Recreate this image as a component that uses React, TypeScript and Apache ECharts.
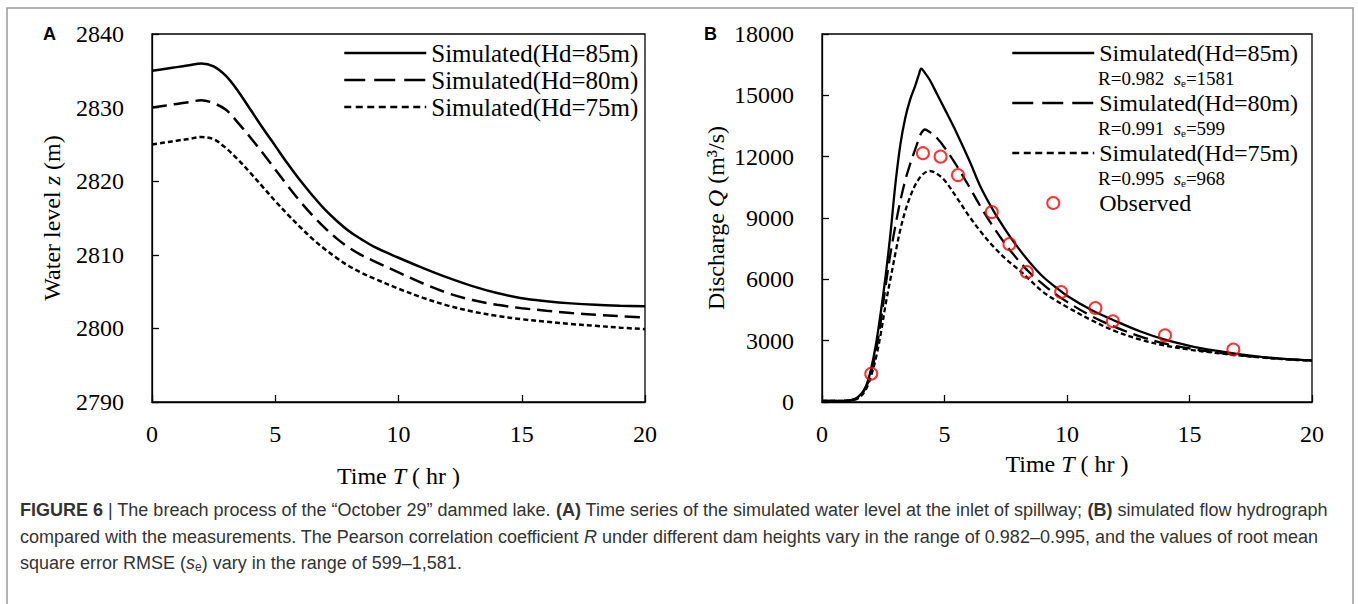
import React, { useEffect, useRef } from "react";
import * as echarts from "echarts";

const SERIF = "'Liberation Serif', 'Times New Roman', serif";
const SANS = "'Liberation Sans', Arial, sans-serif";

// ---------- data ----------
const simNames = ["Simulated(Hd=85m)", "Simulated(Hd=80m)", "Simulated(Hd=75m)"];
const observedName = "Observed";
const fitR = ["R=0.982", "R=0.991", "R=0.995"];
const fitSe = ["1581", "599", "968"];

// Panel A: water level (m)
const levelTime = [0, 0.5, 1, 1.5, 2, 2.5, 3, 3.5, 4, 4.5, 5, 5.5, 6, 6.5, 7, 7.5, 8, 8.5, 9, 10, 11, 12, 13, 14, 15, 16, 17, 18, 19, 20];
const level85 = [2835.0, 2835.25, 2835.5, 2835.75, 2836.0, 2835.6, 2834.3, 2832.2, 2829.7, 2827.2, 2824.8, 2822.4, 2820.15, 2818.1, 2816.2, 2814.6, 2813.2, 2812.1, 2811.1, 2809.6, 2808.2, 2806.9, 2805.75, 2804.8, 2804.1, 2803.7, 2803.4, 2803.2, 2803.08, 2803.0];
const level80 = [2830.0, 2830.25, 2830.5, 2830.75, 2831.0, 2830.6, 2829.7, 2827.9, 2825.9, 2823.8, 2821.6, 2819.4, 2817.3, 2815.4, 2813.7, 2812.2, 2810.95, 2809.95, 2809.15, 2807.6, 2806.1, 2804.8, 2803.85, 2803.2, 2802.75, 2802.4, 2802.1, 2801.85, 2801.65, 2801.5];
const level75 = [2825.0, 2825.25, 2825.5, 2825.75, 2826.0, 2825.7, 2824.5, 2822.9, 2821.1, 2819.2, 2817.3, 2815.5, 2813.8, 2812.2, 2810.8, 2809.55, 2808.45, 2807.55, 2806.8, 2805.4, 2804.15, 2803.1, 2802.3, 2801.7, 2801.25, 2800.9, 2800.6, 2800.35, 2800.1, 2799.9];

// Panel B: discharge (m3/s)
const flowTime = [0, 0.5, 1, 1.3, 1.5, 1.7, 1.85, 2, 2.2, 2.4, 2.6, 2.8, 3, 3.2, 3.4, 3.6, 3.8, 3.95, 4.05, 4.2, 4.4, 4.7, 5, 5.5, 6, 6.5, 7, 7.5, 8, 8.5, 9, 9.5, 10, 11, 12, 13, 14, 15, 16, 17, 18, 19, 20];
const flow85 = [50, 55, 70, 130, 280, 560, 950, 1600, 2800, 4400, 6200, 8300, 10700, 12600, 13900, 14800, 15450, 16000, 16300, 16100, 15750, 15050, 14350, 13150, 11850, 10450, 9350, 8400, 7550, 6800, 6150, 5650, 5200, 4500, 3950, 3450, 3050, 2750, 2520, 2340, 2200, 2100, 2040];
const flow80 = [50, 55, 65, 120, 250, 520, 880, 1400, 2450, 3950, 5700, 7300, 8650, 9850, 10850, 11650, 12350, 12850, 13150, 13330, 13200, 12900, 12450, 11550, 10550, 9500, 8550, 7700, 6950, 6300, 5780, 5300, 4900, 4200, 3650, 3200, 2850, 2620, 2440, 2300, 2180, 2090, 2030];
const flow75 = [50, 55, 60, 100, 200, 440, 760, 1250, 2150, 3350, 4800, 6050, 7300, 8450, 9350, 10050, 10600, 10900, 11050, 11220, 11300, 11150, 10850, 10000, 9100, 8300, 7600, 7000, 6500, 5950, 5400, 5000, 4650, 4000, 3450, 3050, 2760, 2560, 2410, 2280, 2170, 2080, 2020];

const obsTime = [2.01, 4.12, 4.84, 5.55, 6.93, 7.65, 8.36, 9.76, 11.16, 11.87, 14.0, 16.79];
const obsFlow = [1380, 12170, 12000, 11100, 9290, 7720, 6360, 5380, 4600, 3950, 3260, 2570];

const captionLines = [
  "{b|FIGURE 6} | The breach process of the \u201cOctober 29\u201d dammed lake. {b|(A)} Time series of the simulated water level at the inlet of spillway; {b|(B)} simulated flow hydrograph",
  "compared with the measurements. The Pearson correlation coefficient {i|R} under different dam heights vary in the range of 0.982\u20130.995, and the values of root mean",
  "square error RMSE ({i|s}{sub|e}) vary in the range of 599\u20131,581.",
];

// ---------- component ----------
export default function App() {
  const ref = useRef<HTMLDivElement>(null);

  useEffect(() => {
    if (!ref.current) return;
    const chart = echarts.init(ref.current, undefined, { renderer: "svg" });

    const dashLong = [15, 7];
    const dashShort = [5, 3];
    const legendTypes: any[] = ["solid", [21, 9], [7, 4.5]];
    const pair = (xs: number[], ys: number[]) => xs.map((x, i) => [x, ys[i]]);

    const labelStyle = { fontFamily: SERIF, fontSize: 24, color: "#000" };
    const nameStyle = {
      fontFamily: SERIF,
      fontSize: 24,
      color: "#000",
      rich: {
        i: { fontFamily: SERIF, fontSize: 24, fontStyle: "italic", color: "#000" },
        n: { fontFamily: SERIF, fontSize: 24, color: "#000" },
      },
    };
    const axisLine = { show: true, lineStyle: { color: "#000", width: 1.3 } };
    const axisTick = { show: true, inside: true, length: 7, lineStyle: { color: "#000", width: 1.3 } };
    const fmt = (v: number) => String(v);

    const xAxisBase = (gi: number, gap: number) => ({
      gridIndex: gi,
      type: "value",
      min: 0,
      max: 20,
      interval: 5,
      axisLine,
      axisTick,
      splitLine: { show: false },
      axisLabel: { ...labelStyle, margin: 20, formatter: fmt },
      name: "{n|Time }{i|T}{n| ( hr )}",
      nameLocation: "middle",
      nameGap: gap,
      nameTextStyle: nameStyle,
    });

    const lineSeries = (name: string, data: number[][], idx: number, type: any, width: number) => ({
      name,
      type: "line",
      xAxisIndex: idx,
      yAxisIndex: idx,
      data,
      symbol: "none",
      smooth: 0.35,
      itemStyle: { color: "#000" },
      lineStyle: { color: "#000", width, type },
      silent: true,
      z: 2,
    });

    const hiddenSymbol = { color: "rgba(0,0,0,0)", borderWidth: 0, opacity: 0 };
    const simLegendData = simNames.map((n, i) => ({
      name: n,
      itemStyle: hiddenSymbol,
      lineStyle: { type: legendTypes[i], width: 2.5, color: "#000" },
    }));

    const rRich = {
      m: { fontFamily: SERIF, fontSize: 19, lineHeight: 19, verticalAlign: "top", fill: "#000" },
      s: { fontFamily: SERIF, fontSize: 19, fontStyle: "italic", lineHeight: 19, verticalAlign: "top", fill: "#000" },
      e: { fontFamily: SERIF, fontSize: 11, lineHeight: 11, padding: [9, 0, 0, 0], verticalAlign: "top", fill: "#000" },
    };

    const capRich = {
      b: { fontFamily: SANS, fontSize: 18, fontWeight: "bold", fill: "#333" },
      i: { fontFamily: SANS, fontSize: 18, fontStyle: "italic", fill: "#333" },
      sub: { fontFamily: SANS, fontSize: 12, padding: [7, 0, 0, 0], fill: "#333" },
    };

    const option: any = {
      animation: false,
      backgroundColor: "#fff",
      grid: [
        { left: 152, top: 34, width: 493, height: 368, show: true, borderColor: "#000", borderWidth: 1.3 },
        { left: 822, top: 34, width: 490, height: 368, show: true, borderColor: "#000", borderWidth: 1.3 },
      ],
      xAxis: [xAxisBase(0, 62), xAxisBase(1, 50)],
      yAxis: [
        {
          gridIndex: 0,
          type: "value",
          min: 2790,
          max: 2840,
          interval: 10,
          axisLine,
          axisTick,
          splitLine: { show: false },
          axisLabel: { ...labelStyle, margin: 28, formatter: fmt },
          name: "{n|Water level }{i|z}{n| (m)}",
          nameLocation: "middle",
          nameRotate: 90,
          nameGap: 88,
          nameTextStyle: nameStyle,
        },
        {
          gridIndex: 1,
          type: "value",
          min: 0,
          max: 18000,
          interval: 3000,
          axisLine,
          axisTick,
          splitLine: { show: false },
          axisLabel: { ...labelStyle, margin: 28, formatter: fmt },
          name: "{n|Discharge }{i|Q}{n| (m\u00b3/s)}",
          nameLocation: "middle",
          nameRotate: 90,
          nameGap: 94,
          nameTextStyle: nameStyle,
        },
      ],
      legend: [
        {
          left: 343,
          top: 40,
          padding: 0,
          orient: "vertical",
          itemWidth: 82,
          itemHeight: 14,
          itemGap: 1,
          selectedMode: false,
          textStyle: { fontFamily: SERIF, fontSize: 25, color: "#000", lineHeight: 26 },
          data: simLegendData,
        },
        {
          left: 1011,
          top: 40,
          padding: 0,
          orient: "vertical",
          itemWidth: 82,
          itemHeight: 12,
          itemGap: 24,
          selectedMode: false,
          textStyle: { fontFamily: SERIF, fontSize: 24, color: "#000", lineHeight: 26 },
          data: [
            ...simLegendData,
            { name: observedName, icon: "circle", itemStyle: { color: "rgba(0,0,0,0)", borderColor: "#ff0000", borderWidth: 2 } },
          ],
        },
      ],
      series: [
        lineSeries(simNames[0], pair(levelTime, level85), 0, "solid", 2.5),
        lineSeries(simNames[1], pair(levelTime, level80), 0, dashLong, 2.5),
        lineSeries(simNames[2], pair(levelTime, level75), 0, dashShort, 2.5),
        lineSeries(simNames[0], pair(flowTime, flow85), 1, "solid", 2.3),
        lineSeries(simNames[1], pair(flowTime, flow80), 1, dashLong, 2.3),
        lineSeries(simNames[2], pair(flowTime, flow75), 1, dashShort, 2.3),
        {
          name: observedName,
          type: "scatter",
          xAxisIndex: 1,
          yAxisIndex: 1,
          data: pair(obsTime, obsFlow),
          symbol: "circle",
          symbolSize: 12,
          itemStyle: { color: "rgba(0,0,0,0)", borderColor: "#ff0000", borderWidth: 2 },
          z: 5,
          silent: true,
        },
      ],
      graphic: [
        {
          type: "rect",
          silent: true,
          shape: { x: 7, y: 8, width: 1346, height: 640 },
          style: { fill: "none", stroke: "#9a9a9a", lineWidth: 1.5 },
        },
        {
          type: "text",
          x: 43,
          y: 34,
          style: { text: "A", fontFamily: SANS, fontSize: 18, fontWeight: "bold", fill: "#000", verticalAlign: "middle" },
        },
        {
          type: "text",
          x: 704,
          y: 34,
          style: { text: "B", fontFamily: SANS, fontSize: 18, fontWeight: "bold", fill: "#000", verticalAlign: "middle" },
        },
        ...fitR.map((r, i) => ({
          type: "text",
          x: 1098,
          y: 78 + i * 50,
          style: {
            text: `{m|${r}  }{s|s}{e|e}{m|=${fitSe[i]}}`,
            rich: rRich,
            verticalAlign: "middle",
            fill: "#000",
          },
        })),
        ...captionLines.map((t, i) => ({
          type: "text",
          x: 20,
          y: 510 + i * 26.5,
          style: {
            text: t,
            rich: capRich,
            fontFamily: SANS,
            fontSize: 18,
            fill: "#333",
            verticalAlign: "middle",
          },
        })),
      ],
    };

    chart.setOption(option);
    return () => chart.dispose();
  }, []);

  return (
    <div
      ref={ref}
      style={{ position: "absolute", left: 0, top: 0, width: 1358, height: 604, background: "#fff" }}
    />
  );
}
